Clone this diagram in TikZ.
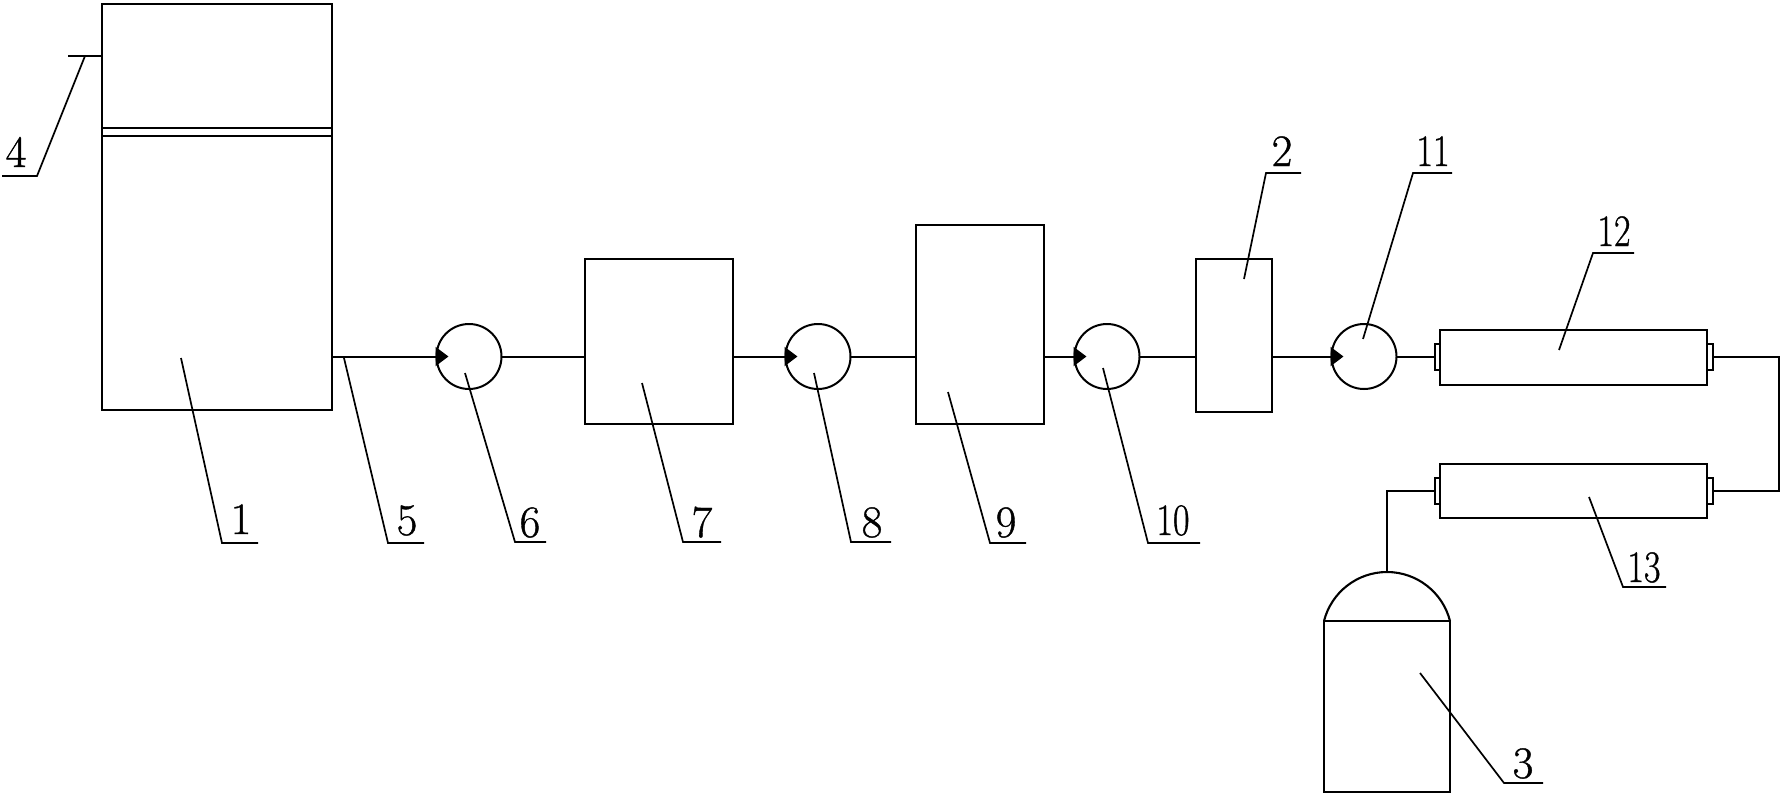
\documentclass[tikz,border=0pt]{standalone}
\usepackage{graphicx}
\usepackage{fontspec}
\setmainfont{Latin Modern Roman}
\usetikzlibrary{arrows.meta}
\tikzset{
  unit/.style={draw=black,line width=2.1pt,fill=none,inner sep=0pt,outer sep=0pt,rectangle},
  pump/.style={draw=black,line width=2pt,circle,inner sep=0pt,outer sep=0pt,minimum size=65pt},
  stub/.style={draw=black,line width=2pt,rectangle,inner sep=0pt,outer sep=0pt,minimum width=5.5pt,minimum height=26pt},
  pipe/.style={draw=black,line width=2pt},
  flow/.style={pipe,-{Triangle[length=13pt,width=19pt]}},
  leaderline/.style={draw=black,line width=1.7pt},
  num/.style={inner sep=0pt,outer sep=0pt,anchor=base,font=\fontsize{45}{45}\selectfont\addfontfeature{FakeBold=0.9}}
}
\newcommand{\twod}[1]{\scalebox{.8}[1]{#1}}
% name, start, elbow, end, text, text position
\newcommand{\callout}[6]{%
  \coordinate (#1a) at (#2);
  \coordinate (#1b) at (#3);
  \coordinate (#1c) at (#4);
  \node[num] (#1t) at (#6) {#5};
  \draw[leaderline] (#1a) -- (#1b) -- (#1c);
}
\begin{document}
\begin{tikzpicture}[x=1pt,y=-1pt]
\useasboundingbox (0,0) rectangle (1782,795);
% units
\node[unit,minimum width=230pt,minimum height=406pt] (tank) at (217,207) {};
\node[unit,minimum width=148pt,minimum height=165pt] (u7) at (659,341.5) {};
\node[unit,minimum width=128pt,minimum height=199pt] (u9) at (980,324.5) {};
\node[unit,minimum width=76pt,minimum height=153pt] (u2) at (1234,335.5) {};
\node[unit,minimum width=267pt,minimum height=55pt] (u12) at (1573.5,357.5) {};
\node[unit,minimum width=267pt,minimum height=54pt] (u13) at (1573.5,491) {};
\node[unit,minimum width=126pt,minimum height=171pt] (u3) at (1387,706.5) {};
% pumps
\node[pump] (p6) at (469,356.5) {};
\node[pump] (p8) at (818,356.5) {};
\node[pump] (p10) at (1107,356.5) {};
\node[pump] (p11) at (1364,356.5) {};
% stubs
\node[stub,anchor=east] (s12l) at ([yshift=.5pt]u12.west) {};
\node[stub,anchor=west] (s12r) at ([yshift=.5pt]u12.east) {};
\node[stub,anchor=east] (s13l) at (u13.west) {};
\node[stub,anchor=west] (s13r) at (u13.east) {};
% tank partition and tab
\coordinate (pa) at (102,128);
\coordinate (pb) at (332,128);
\coordinate (pc) at (102,136);
\coordinate (pd) at (332,136);
\draw[pipe] (pa) -- (pb);
\draw[pipe] (pc) -- (pd);
\coordinate (tabend) at (68,56);
\draw[pipe] (tabend) -- (tabend -| tank.west);
% dome
\coordinate (dometop) at (1387,572);
\draw[unit] (u3.north west) .. controls (1331.3,592.2) and (1357.3,572) .. (dometop)
  .. controls (1416.7,572) and (1442.7,592.2) .. (u3.north east);
% main line
\draw[flow] (tank.east |- p6.center) -- ([xshift=12pt]p6.west);
\draw[pipe] (p6.east) -- (u7.west |- p6.east);
\draw[flow] (u7.east |- p8.center) -- ([xshift=12pt]p8.west);
\draw[pipe] (p8.east) -- (u9.west |- p8.east);
\draw[flow] (u9.east |- p10.center) -- ([xshift=12pt]p10.west);
\draw[pipe] (p10.east) -- (u2.west |- p10.east);
\draw[flow] (u2.east |- p11.center) -- ([xshift=12pt]p11.west);
\draw[pipe] (p11.east) -- (s12l.west |- p11.east);
% return pipes
\coordinate (rx) at (1779,424);
\draw[pipe] (s12r.east) -- (s12r.east -| rx) -- (s13r.east -| rx) -- (s13r.east);
\draw[pipe] (s13l.west) -| (dometop);
% callouts
\callout{c4}{85,56}{37,176}{2,176}{4}{16,167}
\callout{c1}{181,358}{222,543}{258,543}{1}{241,534}
\callout{c5}{344,358}{388,543}{424,543}{5}{407,535}
\callout{c6}{465,373}{515,542}{546,542}{6}{530,537}
\callout{c7}{642,383}{683,542}{721,542}{7}{702,537}
\callout{c8}{814,373}{851,542}{891,542}{8}{872,537}
\callout{c9}{948,392}{990,543}{1026,543}{9}{1006,537}
\callout{c10}{1103,368}{1148,543}{1200,543}{\twod{10}}{1173,535}
\callout{c2}{1244,279}{1266,173}{1301,173}{2}{1282,166}
\callout{c11}{1363,339}{1413,173}{1452,173}{\twod{11}}{1433,166}
\callout{c12}{1559,350}{1593,253}{1634,253}{\twod{12}}{1614,246}
\callout{c13}{1589,497}{1623,587}{1666,587}{\twod{13}}{1644,582}
\callout{c3}{1420,673}{1504,783}{1543,783}{3}{1523,778}
\end{tikzpicture}
\end{document}
